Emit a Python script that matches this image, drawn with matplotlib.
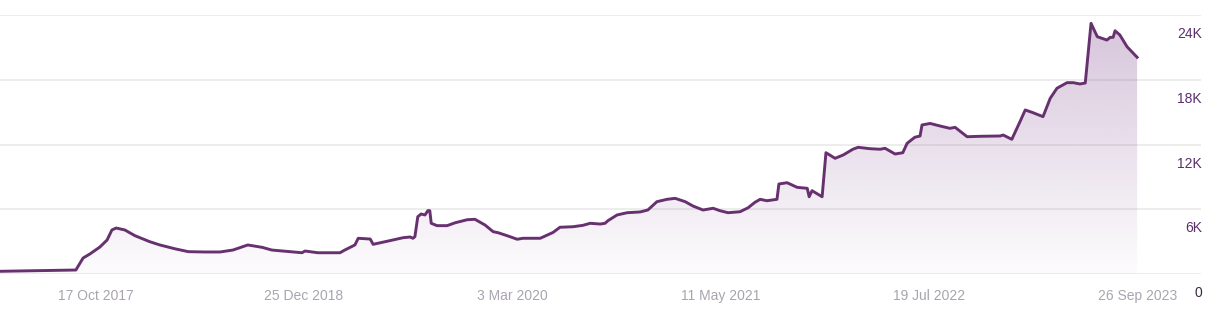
import matplotlib
matplotlib.use("Agg")
import matplotlib.pyplot as plt
import matplotlib.dates as mdates
import numpy as np
import pandas as pd

dates = [
    "2017-04-01", "2017-08-31", "2017-09-06", "2017-09-21", "2017-10-05", "2017-10-26",
    "2017-11-10", "2017-11-20", "2017-11-29", "2017-12-17", "2018-01-07", "2018-01-24",
    "2018-02-07", "2018-02-28", "2018-03-31", "2018-04-28", "2018-06-02", "2018-07-03",
    "2018-07-30", "2018-08-30", "2018-09-29", "2018-10-19", "2018-11-26", "2018-12-21",
    "2018-12-27", "2019-01-23", "2019-03-10", "2019-03-20", "2019-04-10", "2019-04-17",
    "2019-05-12", "2019-05-18", "2019-06-12", "2019-06-28", "2019-07-19", "2019-08-03",
    "2019-08-09", "2019-08-13", "2019-08-19", "2019-08-26", "2019-09-03", "2019-09-09",
    "2019-09-13", "2019-09-16", "2019-09-28", "2019-10-19", "2019-11-05", "2019-11-30",
    "2019-12-16", "2020-01-06", "2020-01-23", "2020-02-02", "2020-02-23", "2020-03-13",
    "2020-03-25", "2020-04-30", "2020-05-27", "2020-06-10", "2020-07-07", "2020-07-28",
    "2020-08-12", "2020-09-02", "2020-09-12", "2020-09-18", "2020-10-07", "2020-10-28",
    "2020-11-24", "2020-12-10", "2020-12-29", "2021-01-19", "2021-02-05", "2021-02-26",
    "2021-03-14", "2021-04-04", "2021-04-25", "2021-05-09", "2021-05-26", "2021-06-20",
    "2021-07-07", "2021-07-21", "2021-08-01", "2021-08-15", "2021-09-05", "2021-09-09",
    "2021-09-26", "2021-10-17", "2021-11-07", "2021-11-11", "2021-11-17", "2021-12-08",
    "2021-12-16", "2022-01-04", "2022-01-21", "2022-02-10", "2022-02-21", "2022-03-18",
    "2022-04-08", "2022-04-18", "2022-05-09", "2022-05-25", "2022-06-03", "2022-06-19",
    "2022-06-30", "2022-07-04", "2022-07-21", "2022-08-11", "2022-08-31", "2022-09-11",
    "2022-10-06", "2022-11-02", "2022-12-14", "2022-12-20", "2023-01-07", "2023-01-24",
    "2023-02-04", "2023-02-20", "2023-03-13", "2023-03-28", "2023-04-11", "2023-05-02",
    "2023-05-15", "2023-05-29", "2023-06-09", "2023-06-21", "2023-07-04", "2023-07-24",
    "2023-07-31", "2023-08-06", "2023-08-10", "2023-08-20", "2023-09-04", "2023-09-17",
    "2023-09-25",
]
values = [
    250, 370, 370, 1480, 1850, 2500,
    3150, 4080, 4260, 4080, 3550, 3240,
    2990, 2690, 2340, 2070, 2040, 2040,
    2220, 2690, 2470, 2220, 2070, 1970,
    2130, 1970, 1970, 2220, 2690, 3310,
    3240, 2750, 2990, 3150, 3360, 3430,
    3310, 3460, 5310, 5560, 5470, 5870,
    5870, 4700, 4480, 4480, 4750, 5030,
    5070, 4540, 3920, 3830, 3520, 3220,
    3310, 3310, 3860, 4330, 4380, 4510,
    4700, 4630, 4700, 4940, 5470, 5680,
    5750, 5930, 6700, 6920, 7010, 6700,
    6300, 5930, 6090, 5870, 5680, 5770,
    6140, 6640, 6920, 6790, 6920, 8340,
    8460, 8030, 7940, 7160, 7720, 7160,
    11240, 10720, 11030, 11560, 11740, 11610,
    11560, 11650, 11120, 11240, 12110, 12670,
    12790, 13810, 13950, 13710, 13500, 13590,
    12720, 12760, 12790, 12880, 12480, 14110,
    15200, 14950, 14580, 16280, 17210, 17730,
    17730, 17610, 17700, 23230, 21990, 21680,
    21930, 21930, 22540, 22150, 21060, 20450,
    20080,
]
x_tick_dates = ["2017-10-17", "2018-12-25", "2020-03-03", "2021-05-11", "2022-07-19", "2023-09-26"]
x_tick_labels = ["17 Oct 2017", "25 Dec 2018", "3 Mar 2020", "11 May 2021", "19 Jul 2022", "26 Sep 2023"]
y_ticks = [0, 6000, 12000, 18000, 24000]
y_tick_labels = ["0", "6K", "12K", "18K", "24K"]

plt.rcParams['font.family'] = ['Liberation Sans', 'DejaVu Sans']

W, H = 1215, 313
fig = plt.figure(figsize=(W / 100, H / 100), dpi=100)
ax = fig.add_axes([0, (H - 274) / H, 1201 / W, 259 / H])

x = mdates.date2num(pd.to_datetime(dates))
y = np.array(values, dtype=float)
x0 = mdates.date2num(pd.Timestamp("2017-04-01"))
x1 = x0 + 2501
ax.set_xlim(x0, x1)
ax.set_ylim(0, 24000)

for yt in y_ticks:
    ax.axhline(yt, color="#e8e8e8", lw=1.1, zorder=0)

line_color = "#67306f"
poly = ax.fill_between(x, y, 0, color="none", lw=0)
grad = np.zeros((256, 1, 4))
rgb = np.array([106, 44, 122]) / 255.0
grad[:, 0, :3] = rgb
grad[:, 0, 3] = np.linspace(0.015, 0.28, 256)
img = ax.imshow(grad, extent=[x.min(), x.max(), 0, 24000], aspect="auto",
                origin="lower", zorder=1, interpolation="bilinear")
img.set_clip_path(poly.get_paths()[0], transform=ax.transData)
ax.plot(x, y, color=line_color, lw=2.1, zorder=3, solid_joinstyle="round")

ax.set_xticks(mdates.date2num(pd.to_datetime(x_tick_dates)))
ax.set_xticklabels(x_tick_labels, color="#a9a4b0", fontsize=10)
ax.tick_params(axis="x", length=0, pad=11)
ax.set_yticks([])
for s in ax.spines.values():
    s.set_visible(False)

for yt, lab in zip(y_ticks, y_tick_labels):
    ax.annotate(lab, xy=(1.0, yt), xycoords=("axes fraction", "data"),
                xytext=(1, -19), textcoords="offset pixels",
                ha="right", va="center", fontsize=10,
                color="#5b2f6a" if yt else "#3a2a40", annotation_clip=False)

fig.savefig("out.png", dpi=100)
